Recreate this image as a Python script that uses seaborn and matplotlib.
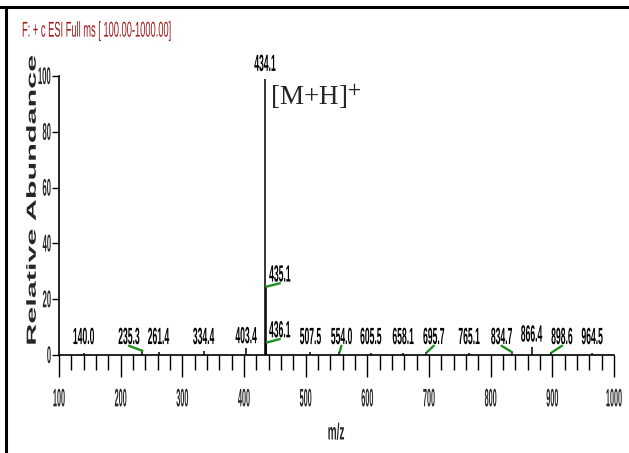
import numpy as np
import matplotlib.pyplot as plt
import seaborn as sns
from matplotlib.patheffects import AbstractPathEffect
from matplotlib.transforms import Affine2D
from matplotlib.lines import Line2D
from matplotlib.ticker import MultipleLocator

# ---------- data ----------
mz = [140.0, 235.3, 261.4, 334.4, 403.4, 434.1, 435.1, 436.1, 507.5,
      554.0, 605.5, 658.1, 695.7, 765.1, 834.7, 866.4, 898.6, 964.5]
abundance = [0.6, 1.5, 1.2, 1.4, 2.4, 99.0, 24.5, 4.5, 1.0,
             1.0, 0.8, 0.8, 1.0, 0.8, 1.0, 3.0, 1.0, 0.6]
x_ticks = [100, 200, 300, 400, 500, 600, 700, 800, 900, 1000]
y_ticks = [0, 20, 40, 60, 80, 100]
scan_title = 'F: + c ESI Full ms [ 100.00-1000.00]'
ion_label = '[M+H]$^{+}$'

# labels that the software pushed sideways (m/z units), joined to the peak by a green leader
label_shift = {235.3: -22, 435.1: 23, 436.1: 22, 554.0: 4, 695.7: 12,
               834.7: -17, 898.6: 17}


class Stretch(AbstractPathEffect):
    # the instrument font is tall and narrow: scale glyphs around their own centre
    def __init__(self, sx=1.0, sy=1.0):
        super().__init__()
        self.sx, self.sy = sx, sy

    def draw_path(self, renderer, gc, tpath, affine, rgbFace=None):
        ext = tpath.get_extents()
        cx, cy = (ext.x0 + ext.x1) / 2, (ext.y0 + ext.y1) / 2
        t = Affine2D().translate(-cx, -cy).scale(self.sx, self.sy).translate(cx, cy)
        renderer.draw_path(gc, tpath, t + affine, rgbFace)


sns.set_style('white')
plt.rcParams['font.family'] = ['Liberation Sans', 'DejaVu Sans']
plt.rcParams['mathtext.fontset'] = 'stix'

fig = plt.figure(figsize=(6.29, 4.53), dpi=100)
ax = fig.add_axes([59 / 629, 98 / 453, 555 / 629, 279 / 453])

# ---------- sticks ----------
ax.vlines(mz, 0, abundance, color='black', lw=1.1)

green = '#1f8f1f'
for m, h in zip(mz, abundance):
    bottom = max(h + 1.5, 3.6)
    if h > 90:
        bottom = h + 2.5
    shift = label_shift.get(m, 0)
    ax.text(m + shift, bottom + 3.0, f'{m:.1f}', ha='center', va='center',
            fontsize=6.5, fontweight='bold', color='black', clip_on=False,
            path_effects=[Stretch(0.95, 2.6)])
    if shift:
        ax.plot([m + (1 if shift > 0 else 0), m + shift], [h, bottom - 0.3],
                color=green, lw=1.7, solid_capstyle='round', clip_on=False)

ax.text(442, 92.5, ion_label, ha='left', va='center', fontsize=19.5,
        family=['Liberation Serif', 'DejaVu Serif'])

# ---------- axes ----------
ax.set_xlim(100, 1000)
ax.set_ylim(0, 100)
ax.set_xticks(x_ticks)
ax.set_yticks(y_ticks)
ax.xaxis.set_minor_locator(MultipleLocator(20))
ax.tick_params(axis='x', which='major', direction='out', length=16, width=1,
               color='black', pad=13, labelsize=5.5, bottom=True)
ax.tick_params(axis='x', which='minor', direction='out', length=10.5, width=1,
               color='black', bottom=True)
ax.tick_params(axis='y', which='major', direction='out', length=5, width=1,
               color='black', pad=0.5, labelsize=5.8, left=True)
for t in ax.get_xticklabels():
    t.set_fontweight('bold')
    t.set_path_effects([Stretch(0.95, 3.3)])
for t in ax.get_yticklabels():
    t.set_fontweight('bold')
    t.set_path_effects([Stretch(0.95, 3.0)])

sns.despine(ax=ax)
for side in ['left', 'bottom']:
    ax.spines[side].set_color('black')
    ax.spines[side].set_linewidth(1.2)

ax.set_xlabel('m/z', fontsize=7.6, fontweight='bold', va='center',
              path_effects=[Stretch(0.95, 2.2)])
ax.xaxis.set_label_coords((336 - 59) / 555, -(432 - 355) / 279)
ax.set_ylabel('Relative Abundance', fontsize=10, fontweight='bold', va='center',
              path_effects=[Stretch(2.2, 0.95)])
ax.yaxis.set_label_coords(-(59 - 32) / 555, (355 - 200) / 279)

fig.text(22 / 629, 1 - 31 / 453, scan_title, ha='left', va='center', fontsize=6.7,
         color='#a11a1a', path_effects=[Stretch(1.0, 2.3)])

# table-cell border seen at top and left of the original
fig.add_artist(Line2D([0, 1], [1 - 6.5 / 453] * 2, transform=fig.transFigure,
                      color='black', lw=2.2))
fig.add_artist(Line2D([6 / 629] * 2, [0, 1 - 6.5 / 453], transform=fig.transFigure,
                      color='black', lw=2.2))

fig.savefig('out.png', dpi=100)
